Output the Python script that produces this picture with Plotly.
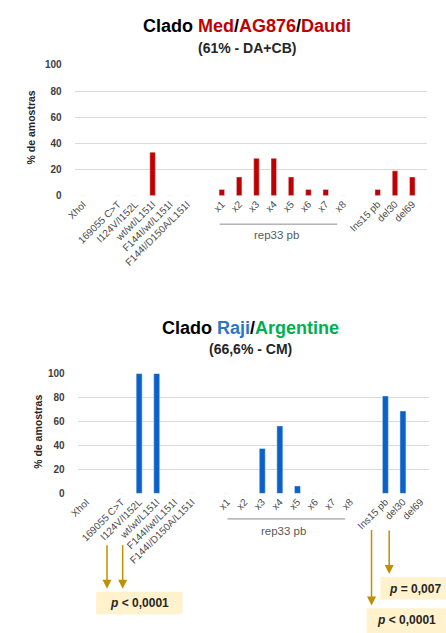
import plotly.graph_objects as go

# Category slots along the x axis (gap_* slots are empty spacers)
categories = ["XhoI", "gap_a", "169055 C>T", "I124V/I152L", "wt/wt/L151I",
              "F144I/wt/L151I", "F144I/D150A/L151I", "gap_b",
              "x1", "x2", "x3", "x4", "x5", "x6", "x7", "x8", "gap_c",
              "Ins15 pb", "del30", "del69"]
tick_labels = ["XhoI", "", "169055 C>T", "I124V/I152L", "wt/wt/L151I",
               "F144I/wt/L151I", "F144I/D150A/L151I", "",
               "x1", "x2", "x3", "x4", "x5", "x6", "x7", "x8", "",
               "Ins15 pb", "del30", "del69"]

# % de amostras per clade
med_ag876_daudi = [0, None, 0, 0, 33.3, 0, 0, None,
                   4.8, 14.3, 28.6, 28.6, 14.3, 4.8, 4.8, 0, None,
                   4.8, 19.0, 14.3]
raji_argentine = [0, None, 0, 100, 100, 0, 0, None,
                  0, 0, 37.5, 56.25, 6.25, 0, 0, 0, None,
                  81.25, 68.75, 0]

y_ticks = [0, 20, 40, 60, 80, 100]

RED = "#C00000"
BLUE = "#0A62C9"
TITLE_BLUE = "#2E75C6"
GREEN = "#00B050"
GOLD = "#BF9000"
BOX = "#FFF2CC"
FONT = "Liberation Sans, Arial, sans-serif"

W, H = 446, 633


def px(x):
    return x / W


def py(y):
    return 1 - y / H


fig = go.Figure()

fig.add_trace(go.Bar(x=categories, y=med_ag876_daudi, marker_color=RED,
                     width=0.32, xaxis="x", yaxis="y", showlegend=False))
fig.add_trace(go.Bar(x=categories, y=raji_argentine, marker_color=BLUE,
                     width=0.34, xaxis="x2", yaxis="y2", showlegend=False))

xcommon = dict(type="category", categoryorder="array", categoryarray=categories,
               tickmode="array", tickvals=categories, ticktext=tick_labels,
               tickangle=-45, showgrid=False, zeroline=False, showline=False,
               ticks="", tickfont=dict(family=FONT, size=10, color="#4D4D4D"))
ycommon = dict(range=[0, 100], tickvals=y_ticks, showgrid=True,
               gridcolor="#D9D9D9", gridwidth=1, zeroline=False, showline=False,
               ticks="", ticklabelstandoff=12,
               tickfont=dict(family=FONT, size=10, color="#404040", weight="bold"))

fig.update_layout(
    width=W, height=H, margin=dict(l=0, r=0, t=0, b=0),
    paper_bgcolor="white", plot_bgcolor="white",
    bargap=0.6,
    xaxis=dict(domain=[px(67), px(427)], anchor="y", range=[-0.5, 19.87], **xcommon),
    yaxis=dict(domain=[py(193), py(60)], anchor="x", **ycommon),
    xaxis2=dict(domain=[px(70), px(429)], anchor="y2", range=[-0.5, 19.5], **xcommon),
    yaxis2=dict(domain=[py(496), py(374)], anchor="x2", **ycommon),
)

ann = []


def text(x, y, s, size, color="#262626", angle=0, bold=True):
    ann.append(dict(x=px(x), y=py(y), xref="paper", yref="paper", text=s,
                    showarrow=False, textangle=angle, xanchor="center", yanchor="middle",
                    font=dict(family=FONT, size=size, color=color,
                              weight="bold" if bold else "normal")))


# Titles
text(243, 20, "Clado <span style='color:%s'>Med</span>/<span style='color:%s'>AG876</span>/"
     "<span style='color:%s'>Daudi</span>" % (RED, RED, RED), 18, "#000000")
text(243, 43, "(61% - DA+CB)", 14, "#262626")
text(246, 328, "Clado <span style='color:%s'>Raji</span>/<span style='color:%s'>Argentine</span>"
     % (TITLE_BLUE, GREEN), 18, "#000000")
text(246, 349, "(66,6% - CM)", 14, "#262626")

# Y axis titles
text(22, 124, "% de amostras", 10.5, "#262626", angle=-90)
text(30, 433, "% de amostras", 10.5, "#262626", angle=-90)

# rep33 pb group labels
text(273, 233, "rep33 pb", 11.5, "#595959", bold=False)
text(280, 534, "rep33 pb", 11.5, "#595959", bold=False)

shapes = [
    dict(type="line", xref="paper", yref="paper", x0=px(215), x1=px(335),
         y0=py(222), y1=py(222), line=dict(color="#8C8C8C", width=1)),
    dict(type="line", xref="paper", yref="paper", x0=px(223), x1=px(343),
         y0=py(522), y1=py(522), line=dict(color="#8C8C8C", width=1)),
    # p-value boxes
    dict(type="rect", xref="paper", yref="paper", x0=px(89), x1=px(177),
         y0=py(619), y1=py(596), fillcolor=BOX, line=dict(width=0), layer="below"),
    dict(type="rect", xref="paper", yref="paper", x0=px(379), x1=px(446),
         y0=py(604), y1=py(581), fillcolor=BOX, line=dict(width=0), layer="below"),
    dict(type="rect", xref="paper", yref="paper", x0=px(365), x1=px(446),
         y0=py(640), y1=py(613), fillcolor=BOX, line=dict(width=0), layer="below"),
]

# p-values
text(133, 608, "<i>p</i> &lt; 0,0001", 12, "#262626")
text(414, 593, "<i>p</i> = 0,007", 12, "#262626")
text(406, 625, "<i>p</i> &lt; 0,0001", 12, "#262626")

# Arrows from the significant markers down to their p-values
for x, y_tail, y_tip in [(100, 548, 593), (116, 548, 593), (370, 533, 610), (388, 533, 578)]:
    ann.append(dict(x=px(x), y=py(y_tip), xref="paper", yref="paper",
                    ax=0, ay=-(y_tip - y_tail), axref="pixel", ayref="pixel",
                    text="", showarrow=True, arrowhead=2, arrowsize=1.2,
                    arrowwidth=1.5, arrowcolor=GOLD))

fig.update_layout(annotations=ann, shapes=shapes)

fig.write_html("out.html")
